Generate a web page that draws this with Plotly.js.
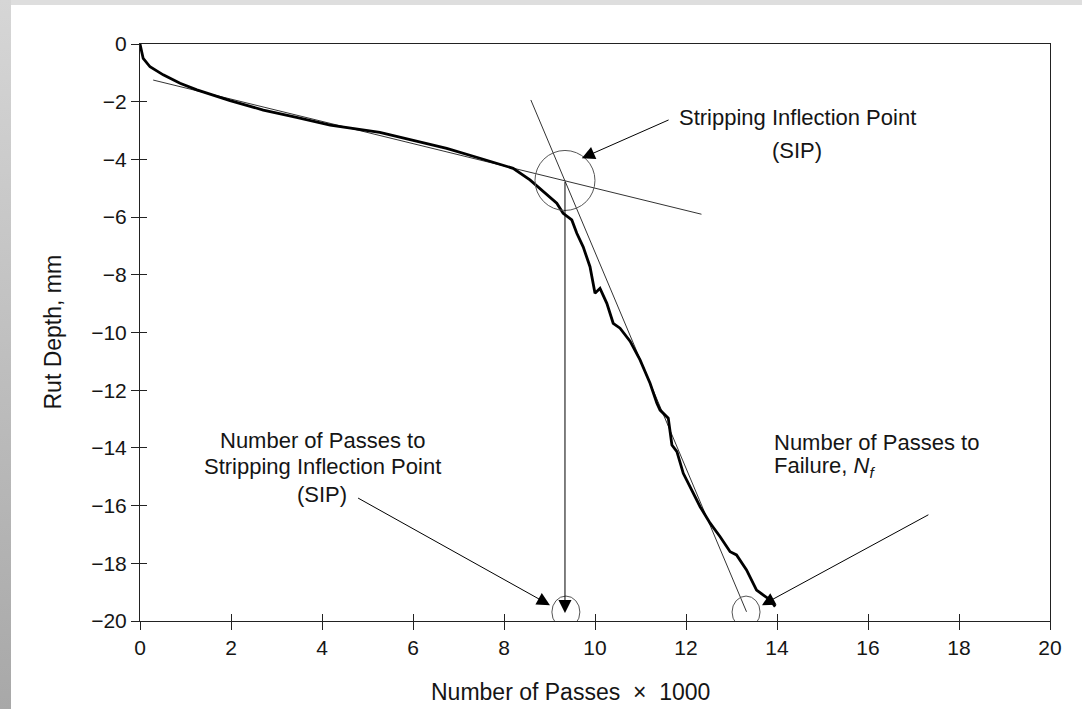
<!DOCTYPE html>
<html>
<head>
<meta charset="utf-8">
<script src="https://cdn.plot.ly/plotly-3.0.1.min.js"></script>
<style>
  html, body { margin: 0; padding: 0; background: #ffffff; }
  #chart { width: 1082px; height: 709px; }
  #bandTop { position: absolute; left: 0; top: 0; width: 1082px; height: 5px; background: #dedede; z-index: 5; pointer-events: none; }
  #bandLeft { position: absolute; left: 0; top: 0; width: 11px; height: 709px; background: linear-gradient(to bottom, #d6d6d6, #a8a8a8); z-index: 6; pointer-events: none; }
</style>
</head>
<body>
<div id="bandTop"></div>
<div id="bandLeft"></div>
<div id="chart"></div>
<script>
// Measured rut-depth curve (passes x1000, rut depth mm)
const passes = [0, 0.07, 0.22, 0.51, 0.88, 1.25, 1.98, 2.71, 3.44, 4.18, 5.27, 6.01, 6.74, 7.47, 7.84, 8.2, 8.57, 8.79, 9.16, 9.3, 9.49, 9.6, 9.74, 9.89, 10.0, 10.11, 10.26, 10.4, 10.55, 10.77, 10.99, 11.21, 11.36, 11.43, 11.61, 11.69, 11.8, 11.94, 12.09, 12.31, 12.53, 12.75, 12.97, 13.11, 13.33, 13.55, 13.7, 13.85, 13.96];
const rutDepth = [0, -0.5, -0.79, -1.07, -1.36, -1.59, -1.96, -2.29, -2.54, -2.81, -3.06, -3.33, -3.62, -3.96, -4.14, -4.31, -4.71, -5.0, -5.52, -5.87, -6.1, -6.56, -7.03, -7.72, -8.64, -8.47, -8.99, -9.68, -9.85, -10.3, -10.95, -11.76, -12.45, -12.69, -12.97, -13.9, -14.13, -14.88, -15.34, -16.04, -16.61, -17.08, -17.6, -17.71, -18.23, -18.93, -19.1, -19.27, -19.5];

// Tangent lines
const creepTangentX = [0.29, 12.34];
const creepTangentY = [-1.25, -5.9];
const strippingTangentX = [8.59, 13.33];
const strippingTangentY = [-1.94, -19.68];

// Key points
const sipX = 9.34, sipY = -4.73;
const sipPassesX = 9.36, failureX = 13.32, baseY = -19.69;

// Tick values
const xTicks = [0, 2, 4, 6, 8, 10, 12, 14, 16, 18, 20];
const yTicks = [0, -2, -4, -6, -8, -10, -12, -14, -16, -18, -20];

// Text
const labelSIP = ["Stripping Inflection Point", "(SIP)"];
const labelLeft = ["Number of Passes to", "Stripping Inflection Point", "(SIP)"];
const labelRight = ["Number of Passes to", "Failure, <i>N<sub>f</sub></i>"];
const xTitle = "Number of Passes  \u00d7  1000";
const yTitle = "Rut Depth, mm";

const FONT = "Liberation Sans, Arial, sans-serif";
const TXT = "#151515";

const traces = [
  { x: creepTangentX, y: creepTangentY, mode: "lines", line: { color: "#333", width: 1 }, hoverinfo: "skip" },
  { x: strippingTangentX, y: strippingTangentY, mode: "lines", line: { color: "#333", width: 1 }, hoverinfo: "skip" },
  { x: passes, y: rutDepth, mode: "lines", line: { color: "#000", width: 2.8 }, hoverinfo: "skip" },
  // invisible trace for secondary (inside-tick) axes
  { x: [0], y: [0], xaxis: "x2", yaxis: "y2", mode: "markers", marker: { opacity: 0 }, hoverinfo: "skip" }
];

function txt(x, y, s, anchor) {
  return { x: x, y: y, xref: "x", yref: "y", text: s, showarrow: false, xanchor: anchor || "center", yanchor: "middle",
           font: { family: FONT, size: 22, color: TXT } };
}
function arrow(ax, ay, x, y) {
  return { x: x, y: y, ax: ax, ay: ay, xref: "x", yref: "y", axref: "x", ayref: "y", text: "", showarrow: true,
           arrowhead: 2, arrowsize: 2.6, arrowwidth: 1, arrowcolor: "#000", standoff: 0, startstandoff: 0 };
}

const annotations = [
  txt(14.44, -2.56, labelSIP[0]), txt(14.44, -3.7, labelSIP[1]),
  txt(4.0, -13.76, labelLeft[0]), txt(4.0, -14.66, labelLeft[1]), txt(4.0, -15.6, labelLeft[2]),
  txt(13.88, -13.8, labelRight[0], "left"), txt(13.88, -14.66, labelRight[1], "left"),
  arrow(11.65, -2.61, 9.71, -3.96),
  arrow(4.76, -15.71, 9.01, -19.45),
  arrow(17.36, -16.29, 13.67, -19.45),
  arrow(sipX, sipY, sipX, -19.72),
  { x: 0.4736, y: -0.123, xref: "paper", yref: "paper", text: xTitle, showarrow: false, xanchor: "center", yanchor: "middle",
    font: { family: FONT, size: 23, color: TXT } },
  { x: -0.0967, y: 0.5, xref: "paper", yref: "paper", text: yTitle, showarrow: false, textangle: -90, xanchor: "center", yanchor: "middle",
    font: { family: FONT, size: 23, color: TXT } }
];

function circle(cx, cy, rx, ry) {
  return { type: "circle", xref: "x", yref: "y", xsizemode: "pixel", ysizemode: "pixel", xanchor: cx, yanchor: cy,
           x0: -rx, x1: rx, y0: -ry, y1: ry, line: { color: "#555", width: 1 } };
}

const layout = {
  width: 1082, height: 709,
  margin: { l: 140, r: 32, t: 44, b: 88 },
  paper_bgcolor: "#ffffff", plot_bgcolor: "#ffffff",
  showlegend: false,
  font: { family: FONT, size: 21, color: TXT },
  xaxis: { range: [0, 20], tickvals: xTicks, ticks: "outside", ticklen: 8, tickcolor: "#222", tickwidth: 1,
           showline: true, linecolor: "#222", linewidth: 1, mirror: true, showgrid: false, zeroline: false,
           tickfont: { family: FONT, size: 21, color: TXT }, fixedrange: true },
  yaxis: { range: [-20, 0], tickvals: yTicks, ticks: "outside", ticklen: 8, tickcolor: "#222", tickwidth: 1,
           showline: true, linecolor: "#222", linewidth: 1, mirror: true, showgrid: false, zeroline: false,
           tickfont: { family: FONT, size: 21, color: TXT }, fixedrange: true },
  xaxis2: { range: [0, 20], overlaying: "x", tickvals: xTicks, ticks: "inside", ticklen: 7, tickcolor: "#222",
            showticklabels: false, showline: false, showgrid: false, zeroline: false, side: "bottom", anchor: "y2" },
  yaxis2: { range: [-20, 0], overlaying: "y", tickvals: yTicks, ticks: "inside", ticklen: 7, tickcolor: "#222",
            showticklabels: false, showline: false, showgrid: false, zeroline: false, side: "left", anchor: "x2" },
  shapes: [
    circle(sipX, sipY, 30, 30),
    circle(sipPassesX, baseY, 14, 16),
    circle(failureX, baseY, 14, 16)
  ],
  annotations: annotations
};

Plotly.newPlot("chart", traces, layout, { displayModeBar: false, staticPlot: true });
</script>
</body>
</html>
